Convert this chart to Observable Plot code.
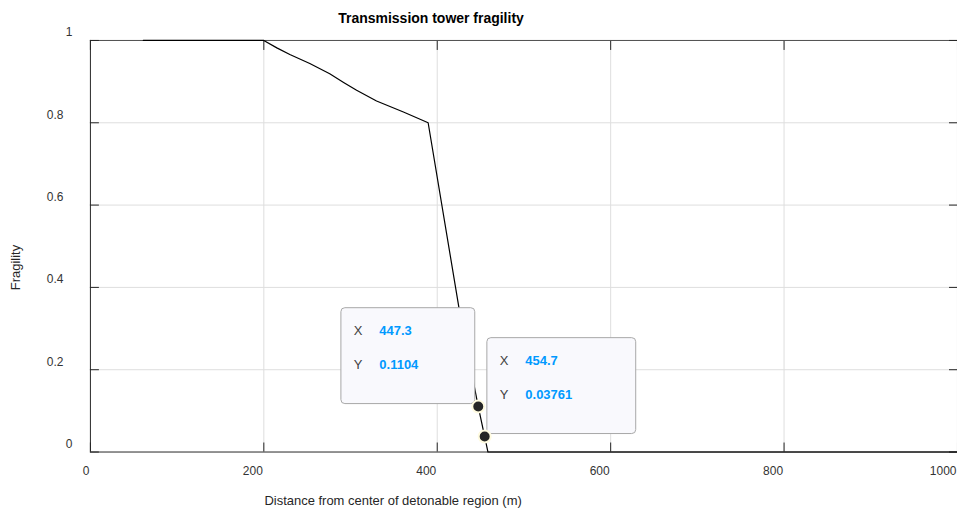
<!DOCTYPE html>
<html><head><meta charset="utf-8">
<script src="https://cdn.jsdelivr.net/npm/d3@7"></script>
<script src="https://cdn.jsdelivr.net/npm/@observablehq/plot@0.6"></script>
<style>
html,body{margin:0;padding:0;background:#fff;overflow:hidden;}
</style></head><body><div id="chart"></div>
<script>
// Curve samples (distance in m, fragility)
const distance  = [61, 200, 215, 230, 253, 276, 292, 307, 330, 361, 389.5, 425, 447.3, 454.7, 458.5, 1000];
const fragility = [1, 1, 0.982, 0.966, 0.944, 0.919, 0.898, 0.879, 0.853, 0.826, 0.800, 0.351, 0.1104, 0.03761, 0, 0];
const xTicks = [0, 200, 400, 600, 800, 1000];
const yTicks = [0, 0.2, 0.4, 0.6, 0.8, 1];
const tipDistance = [447.3, 454.7];
const tipFragility = [0.1104, 0.03761];
const titleText = "Transmission tower fragility";
const xLabel = "Distance from center of detonable region (m)";
const yLabel = "Fragility";

const lineData = distance.map((x, i) => ({x, y: fragility[i]}));
const tips = tipDistance.map((x, i) => ({x, y: tipFragility[i]}));
const font = "'Liberation Sans', Arial, Helvetica, sans-serif";

function renderTips(index, scales) {
  const g = d3.create("svg:g");
  for (const i of index) {
    const d = tips[i];
    const px = scales.x(d.x), py = scales.y(d.y);
    const onLeft = i === 0;
    const w = onLeft ? 134 : 149, h = 96;
    const bx = onLeft ? px - 3 - w : px + 2.7;
    const by = py - 2.5 - h;
    g.append("rect").attr("x", bx).attr("y", by).attr("width", w).attr("height", h)
      .attr("rx", 4).attr("fill", "#f9f9fd").attr("stroke", "#a8a8a8").attr("stroke-width", 1);
    const rows = [["X", String(d.x)], ["Y", String(d.y)]];
    rows.forEach(([k, v], j) => {
      const cy = by + 22.5 + j * 34.3;
      g.append("text").attr("x", bx + 17.3).attr("y", cy).attr("dy", "0.35em")
        .attr("text-anchor", "middle").attr("font-family", font).attr("font-size", 13)
        .attr("fill", "#404040").text(k);
      g.append("text").attr("x", bx + 38.5).attr("y", cy).attr("dy", "0.35em")
        .attr("text-anchor", "start").attr("font-family", font).attr("font-size", 13)
        .attr("font-weight", "bold").attr("fill", "#0099ff").text(v);
    });
  }
  return g.node();
}

const fmt = d => String(d);

const chart = Plot.plot({
  width: 958,
  height: 516,
  marginLeft: 90,
  marginRight: 0,
  marginTop: 40,
  marginBottom: 64,
  x: {domain: [0, 1000]},
  y: {domain: [0, 1]},
  style: {fontFamily: font, fontSize: "12px", color: "#333", background: "#fff"},
  marks: [
    Plot.gridX(xTicks.slice(1, -1), {stroke: "#dedede", strokeOpacity: 1}),
    Plot.gridY(yTicks.slice(1, -1), {stroke: "#dedede", strokeOpacity: 1}),
    Plot.ruleY([1], {stroke: "#4d4d4d"}),
    Plot.ruleX([1000], {stroke: "#262626"}),
    Plot.ruleX([0], {stroke: "#262626"}),
    Plot.ruleY([0], {stroke: "#262626"}),
    Plot.axisX(xTicks, {anchor: "bottom", tickSize: -9, tickFormat: () => "", stroke: "#262626", label: null}),
    Plot.axisX(xTicks, {anchor: "top", tickSize: -9, tickFormat: () => "", stroke: "#262626", label: null}),
    Plot.axisY(yTicks, {anchor: "left", tickSize: -9, tickFormat: () => "", stroke: "#262626", label: null}),
    Plot.axisY(yTicks, {anchor: "right", tickSize: -9, tickFormat: () => "", stroke: "#262626", label: null}),
    Plot.axisX(xTicks, {anchor: "bottom", tickSize: 0, tickPadding: 14, textAnchor: "end", dx: -1, tickFormat: fmt, fill: "#333", fontSize: 12, label: null}),
    Plot.axisY(yTicks.slice(1, -1), {anchor: "left", tickSize: 0, tickPadding: 27, dy: -8, tickFormat: fmt, fill: "#333", fontSize: 12, label: null}),
    Plot.axisY([yTicks[0], yTicks[yTicks.length - 1]], {anchor: "left", tickSize: 0, tickPadding: 18, dy: -8, tickFormat: fmt, fill: "#333", fontSize: 12, label: null}),
    Plot.line(lineData, {x: "x", y: "y", stroke: "#000", strokeWidth: 1.2}),
    Plot.dot(tips, {x: "x", y: "y", render: renderTips}),
    Plot.dot(tips, {x: "x", y: "y", r: 6, fill: "#262626", stroke: "#fffbe0", strokeWidth: 2}),
    Plot.text([titleText], {text: d => d, frameAnchor: "top", dx: -93, dy: -27, fontWeight: "bold", fontSize: 14, fill: "#000"}),
    Plot.text([xLabel], {text: d => d, frameAnchor: "bottom", dx: -131, dy: 53, fontSize: 13, fill: "#262626"}),
    Plot.text([yLabel], {text: d => d, frameAnchor: "left", rotate: -90, dx: -75, dy: 44, fontSize: 13, fill: "#262626"})
  ]
});
document.getElementById("chart").append(chart);
</script>
</body></html>
